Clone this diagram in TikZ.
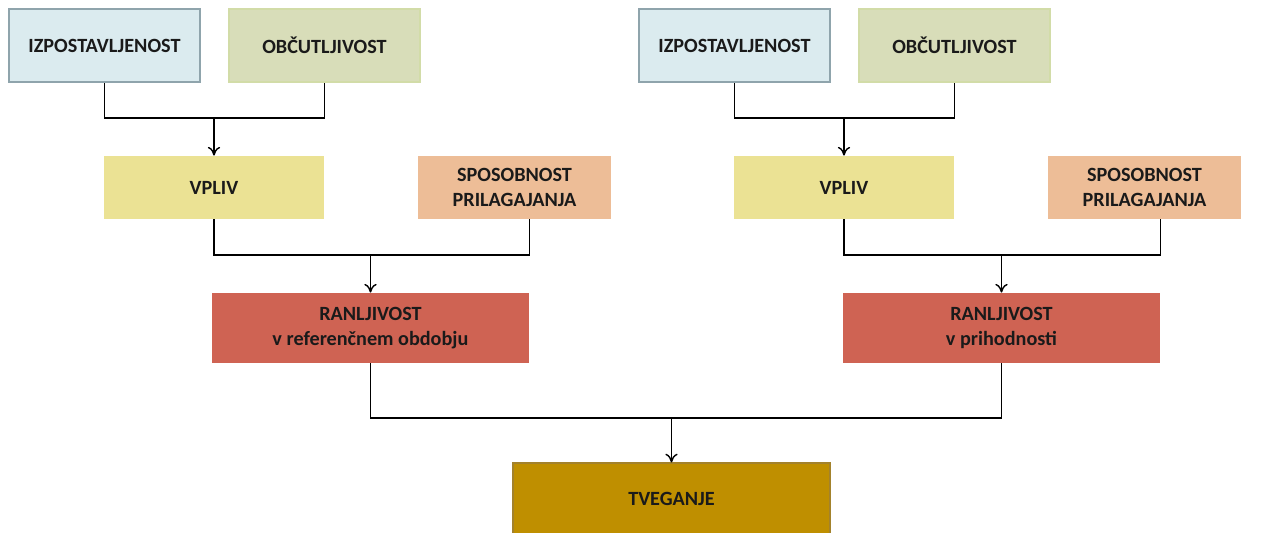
\documentclass[tikz,border=0pt]{standalone}
\usepackage{fontspec}
\setmainfont{Carlito}
\usetikzlibrary{arrows.meta}
\definecolor{izpfill}{HTML}{DBEBEF}
\definecolor{izpline}{HTML}{8FA4AC}
\definecolor{obcfill}{HTML}{D8DDB9}
\definecolor{obcline}{HTML}{D2DCA8}
\definecolor{vplfill}{HTML}{EBE294}
\definecolor{spofill}{HTML}{EDBD97}
\definecolor{ranfill}{HTML}{CF6353}
\definecolor{tvefill}{HTML}{BF8F00}
\definecolor{tveline}{HTML}{A3822C}
\definecolor{txt}{HTML}{1A1A1A}
\newcommand{\pxu}{0.02cm}
\tikzstyle{box}=[rectangle, inner sep=0pt, align=center, text=txt,
  font=\fontsize{11.5}{14.5}\selectfont\bfseries]
\tikzstyle{topbox}=[box, minimum width=191*\pxu, minimum height=73*\pxu, line width=1.6pt]
\tikzstyle{midbox}=[box, minimum height=63*\pxu]
\tikzstyle{ranbox}=[box, minimum width=317*\pxu, minimum height=70*\pxu, fill=ranfill]
\tikzstyle{link}=[line width=0.8pt, black]
\tikzstyle{arrow}=[link, -{To[length=5pt,width=7pt]}]

\begin{document}
\begin{tikzpicture}[x=\pxu, y=-\pxu]
  \useasboundingbox (0,0) rectangle (1262,533);
  % left branch
  \node[topbox, fill=izpfill, draw=izpline] (izpL) at (104.5,45.5) {IZPOSTAVLJENOST};
  \node[topbox, fill=obcfill, draw=obcline] (obcL) at (324.5,45.5) {OBČUTLJIVOST};
  \node[midbox, minimum width=220*\pxu, fill=vplfill] (vplL) at (214,187.5) {VPLIV};
  \node[midbox, minimum width=193*\pxu, fill=spofill] (spoL) at (514.5,187.5) {SPOSOBNOST\\PRILAGAJANJA};
  \node[ranbox] (ranL) at (370.5,328) {RANLJIVOST\\v referenčnem obdobju};
  % right branch
  \node[topbox, fill=izpfill, draw=izpline] (izpR) at (734.5,45.5) {IZPOSTAVLJENOST};
  \node[topbox, fill=obcfill, draw=obcline] (obcR) at (954.5,45.5) {OBČUTLJIVOST};
  \node[midbox, minimum width=220*\pxu, fill=vplfill] (vplR) at (844,187.5) {VPLIV};
  \node[midbox, minimum width=193*\pxu, fill=spofill] (spoR) at (1144.5,187.5) {SPOSOBNOST\\PRILAGAJANJA};
  \node[ranbox] (ranR) at (1001.5,328) {RANLJIVOST\\v prihodnosti};
  % result
  \node[box, minimum width=317*\pxu, minimum height=71*\pxu, fill=tvefill, draw=tveline, line width=0.6pt]
    (tve) at (671.5,498.5) {TVEGANJE};

  % junctions
  \coordinate (jL1) at (214,118);
  \coordinate (jR1) at (844,118);
  \coordinate (jL2) at (370.5,255);
  \coordinate (jR2) at (1001.5,255);
  \coordinate (jB) at (671.5,418);

  \draw[link] (izpL.south) |- (jL1) -| (obcL.south);
  \draw[arrow] (jL1) -- (vplL.north);
  \draw[link] (izpR.south) |- (jR1) -| (obcR.south);
  \draw[arrow] (jR1) -- (vplR.north);

  \draw[link] (vplL.south) |- (jL2) -| (ranL.east |- spoL.south);
  \draw[arrow] (jL2) -- (ranL.north);
  \draw[link] (vplR.south) |- (jR2) -| (ranR.east |- spoR.south);
  \draw[arrow] (jR2) -- (ranR.north);

  \draw[link] (ranL.south) |- (jB) -| (ranR.south);
  \draw[arrow] (jB) -- (tve.north);
\end{tikzpicture}
\end{document}
